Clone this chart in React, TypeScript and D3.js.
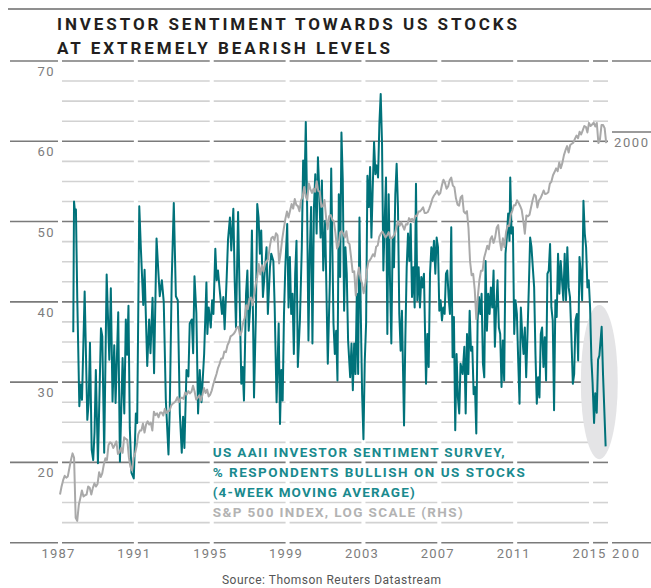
import React from "react";
import * as d3 from "d3";

const W = 651;
const H = 588;

const titleLines = ["INVESTOR SENTIMENT TOWARDS US STOCKS", "AT EXTREMELY BEARISH LEVELS"];
const legendTeal = ["US AAII INVESTOR SENTIMENT SURVEY,", "% RESPONDENTS BULLISH ON US STOCKS", "(4-WEEK MOVING AVERAGE)"];
const legendGray = "S&P 500 INDEX, LOG SCALE (RHS)";
const sourceText = "Source: Thomson Reuters Datastream";

const yearLabels = [1987, 1991, 1995, 1999, 2003, 2007, 2011, 2015];
const yearBreaks = [1987, 1991, 1995, 1999, 2003, 2007, 2011, 2015, 2016];
const leftTicks = [70, 60, 50, 40, 30, 20];
const gridLevels = [10, 12.5, 15, 17.5, 20, 22.5, 25, 27.5, 30, 32.5, 35, 37.5, 40, 42.5, 45, 47.5, 50, 52.5, 55, 57.5, 60, 62.5, 65, 67.5, 70];
const rightTicks = [2000, 200];

// S&P 500, monthly (Dec 1986 .. Jan 2016), spread evenly from spStart to spEnd
const spStart = 1987;
const spEnd = 2015.8;
const spValues = [
  262,
  274, 284, 291, 288, 290, 304, 318, 330, 322, 230, 226, 247,
  257, 268, 259, 261, 262, 274, 272, 262, 272, 279, 274, 278,
  297, 289, 295, 310, 321, 318, 346, 351, 349, 340, 346, 353,
  329, 332, 340, 331, 361, 358, 356, 323, 306, 300, 322, 330,
  344, 367, 375, 375, 390, 371, 388, 395, 388, 392, 375, 417,
  409, 413, 404, 415, 415, 408, 424, 414, 418, 419, 431, 436,
  439, 443, 452, 440, 450, 451, 448, 464, 459, 468, 462, 466,
  482, 467, 446, 451, 457, 444, 458, 476, 463, 472, 454, 459,
  470, 487, 501, 515, 533, 545, 562, 562, 584, 582, 605, 616,
  636, 640, 645, 654, 669, 671, 640, 652, 687, 705, 757, 741,
  786, 791, 757, 801, 848, 885, 954, 900, 947, 915, 955, 970,
  980, 1049, 1102, 1112, 1091, 1134, 1121, 957, 1017, 1099, 1164, 1229,
  1280, 1238, 1286, 1335, 1302, 1373, 1329, 1320, 1283, 1363, 1389, 1469,
  1394, 1366, 1499, 1452, 1421, 1455, 1431, 1518, 1437, 1429, 1315, 1320,
  1366, 1240, 1160, 1249, 1256, 1224, 1211, 1134, 1041, 1060, 1139, 1148,
  1130, 1107, 1147, 1077, 1067, 990, 912, 916, 800, 886, 936, 880,
  856, 810, 848, 917, 964, 975, 990, 1008, 996, 1051, 1058, 1112,
  1131, 1145, 1126, 1107, 1121, 1141, 1102, 1104, 1115, 1130, 1174, 1212,
  1181, 1204, 1181, 1157, 1192, 1191, 1234, 1220, 1229, 1207, 1250, 1248,
  1280, 1281, 1295, 1311, 1270, 1270, 1277, 1304, 1336, 1378, 1401, 1418,
  1438, 1407, 1421, 1482, 1531, 1503, 1455, 1474, 1527, 1549, 1481, 1468,
  1379, 1331, 1323, 1386, 1400, 1280, 1267, 1283, 1166, 969, 896, 903,
  826, 700, 798, 873, 919, 919, 988, 1021, 1057, 1036, 1096, 1115,
  1074, 1105, 1169, 1187, 1089, 1031, 1102, 1049, 1141, 1183, 1181, 1258,
  1286, 1327, 1326, 1364, 1345, 1321, 1292, 1219, 1131, 1253, 1247, 1258,
  1312, 1366, 1409, 1398, 1310, 1362, 1379, 1407, 1441, 1412, 1416, 1426,
  1498, 1515, 1569, 1598, 1631, 1606, 1686, 1633, 1682, 1757, 1806, 1848,
  1783, 1860, 1872, 1884, 1924, 1960, 1931, 2003, 1972, 2018, 2068, 2059,
  1995, 2105, 2068, 2086, 2107, 2063, 2104, 1880, 1920, 2079, 2080, 2044,
  1880,
];

// AAII % bullish, 4-week moving average: [decimal year, value]
const bullish: [number, number][] = [
  [1987.70, 36.2], [1987.74, 52.5], [1987.79, 51.2], [1987.84, 51.5], [1987.91, 40.5], [1988.02, 27], [1988.09, 29.7], [1988.16, 27.8],
  [1988.30, 41.3], [1988.44, 25.3], [1988.51, 27.4], [1988.58, 34.9], [1988.67, 21.6], [1988.75, 20.3], [1988.82, 23.7], [1988.89, 31.5],
  [1989.00, 19.9], [1989.16, 36.7], [1989.23, 35.7], [1989.33, 21.2], [1989.46, 43.4], [1989.60, 32.8], [1989.68, 41.7], [1989.77, 27.6],
  [1989.86, 34.6], [1989.93, 27.4], [1990.07, 38.7], [1990.16, 20.1], [1990.30, 33], [1990.39, 26.1], [1990.47, 37.8], [1990.54, 33.4],
  [1990.61, 39.5], [1990.68, 24.3], [1990.77, 18.7], [1990.89, 18.0], [1991.00, 26.1], [1991.07, 24.9], [1991.18, 51.9], [1991.26, 46.9],
  [1991.39, 39.6], [1991.46, 44], [1991.60, 32], [1991.70, 37.8], [1991.77, 33.6], [1991.88, 40.5], [1991.96, 31.1], [1992.09, 47.9],
  [1992.18, 44], [1992.26, 40.7], [1992.37, 42.7], [1992.47, 40], [1992.58, 27.8], [1992.72, 21], [1992.79, 27], [1992.89, 42.7],
  [1993.00, 52.3], [1993.11, 40.7], [1993.21, 40.2], [1993.32, 26.1], [1993.42, 21.2], [1993.49, 25.7], [1993.56, 21.8], [1993.67, 31.5],
  [1993.77, 30.7], [1993.84, 37.3], [1993.95, 37.8], [1994.02, 33.6], [1994.09, 43.2], [1994.19, 38.6],
  [1994.28, 26.1], [1994.37, 31.5], [1994.46, 27.5], [1994.60, 33.5], [1994.72, 42.4], [1994.77, 36], [1994.84, 39.3], [1994.95, 36.8],
  [1995.02, 40.2], [1995.09, 38.5], [1995.19, 46.6], [1995.26, 42.7], [1995.33, 43.9], [1995.44, 41], [1995.54, 38.5], [1995.61, 40.6],
  [1995.68, 36.6], [1995.79, 43.1], [1995.86, 47.8], [1995.96, 50.5], [1996.03, 46.4], [1996.14, 51.6], [1996.21, 42.7], [1996.28, 36.8],
  [1996.39, 51.2], [1996.49, 38.5], [1996.56, 29.8], [1996.63, 31.9], [1996.70, 27.7], [1996.81, 41], [1996.88, 43.9], [1996.95, 36.4],
  [1997.05, 40.2], [1997.12, 48.9], [1997.23, 28.1], [1997.33, 38.5], [1997.40, 52.2], [1997.47, 50.5], [1997.54, 46], [1997.61, 48.9],
  [1997.70, 40.6], [1997.79, 43.5], [1997.89, 46.8], [1997.96, 38.5], [1998.07, 44.3], [1998.14, 46], [1998.25, 45.1], [1998.32, 39.3],
  [1998.42, 27.5], [1998.53, 37.3], [1998.60, 24.8], [1998.67, 31.5], [1998.74, 27.7], [1998.81, 38.5], [1998.88, 44.3], [1998.98, 49.7],
  [1999.05, 39.3], [1999.12, 45.6], [1999.19, 38.5], [1999.26, 41], [1999.33, 33.5], [1999.40, 43.5], [1999.47, 47.6], [1999.54, 31.9],
  [1999.65, 37.7], [1999.75, 46.8], [1999.82, 57.6], [1999.89, 53.9], [1999.96, 62.4], [2000.03, 51.8], [2000.10, 35.2], [2000.17, 46],
  [2000.24, 51.8], [2000.31, 34.8], [2000.39, 51.8], [2000.46, 55.9], [2000.53, 48.5], [2000.60, 58], [2000.67, 53.9], [2000.74, 48],
  [2000.81, 55.1], [2000.88, 43.9], [2000.98, 50.1], [2001.12, 32.3], [2001.23, 42.7], [2001.30, 56.6],
  [2001.42, 37.3], [2001.49, 33.5], [2001.56, 36.4], [2001.63, 30.2], [2001.70, 53.4], [2001.77, 43.1], [2001.84, 61.1], [2001.91, 55.1],
  [2001.98, 38.9], [2002.05, 46.8], [2002.12, 43.5], [2002.19, 35.2], [2002.30, 30.6], [2002.37, 34.8], [2002.44, 29], [2002.51, 34.8],
  [2002.58, 31], [2002.65, 41], [2002.72, 31], [2002.79, 50.5], [2002.86, 38.5], [2002.93, 28.5], [2003.00, 22.9], [2003.07, 32.7],
  [2003.14, 37.3], [2003.21, 55.7], [2003.28, 51.8], [2003.35, 56.8], [2003.42, 48], [2003.49, 54.3], [2003.56, 59.9], [2003.63, 55.9],
  [2003.70, 57], [2003.77, 55.5], [2003.84, 62.2], [2003.91, 65.9], [2003.98, 59.7], [2004.05, 43.9], [2004.12, 50.1], [2004.19, 55.5],
  [2004.26, 36], [2004.33, 53.4], [2004.40, 42.7], [2004.47, 34.8], [2004.54, 48], [2004.61, 44.3], [2004.68, 53.4], [2004.75, 57.2],
  [2004.82, 51.8], [2004.89, 38.5], [2004.96, 33.9], [2005.03, 38.9], [2005.14, 24.6], [2005.21, 35.6], [2005.28, 44.3], [2005.35, 48.5],
  [2005.42, 45.1], [2005.49, 49.7], [2005.56, 40.6], [2005.63, 44.3], [2005.70, 39.3], [2005.77, 54.7], [2005.84, 40.2], [2005.91, 44.3],
  [2005.98, 39.3], [2006.05, 43.1], [2006.12, 41.8], [2006.19, 43.5], [2006.30, 29.8], [2006.37, 36], [2006.44, 31.9], [2006.51, 43.5],
  [2006.58, 46.8], [2006.65, 45.1], [2006.72, 47.6], [2006.79, 43.5], [2006.86, 48], [2006.93, 46.8], [2007.00, 38.9], [2007.07, 40.2],
  [2007.14, 37.7], [2007.21, 39.3], [2007.28, 38.5], [2007.35, 43.5], [2007.42, 43.9], [2007.49, 40.6], [2007.56, 38.5], [2007.63, 49.3],
  [2007.70, 33.1], [2007.77, 38.1], [2007.84, 24.0], [2007.91, 33.5], [2007.98, 28.1], [2008.05, 26.1], [2008.12, 32.3], [2008.23, 31],
  [2008.32, 34.4], [2008.39, 26.1], [2008.46, 36], [2008.53, 31], [2008.60, 38.9], [2008.67, 33.9], [2008.74, 34.4], [2008.81, 28.5],
  [2008.88, 29.4], [2008.95, 23.6], [2009.02, 37.7], [2009.09, 40.6], [2009.16, 38.5], [2009.23, 41], [2009.30, 32.3], [2009.37, 30.6],
  [2009.44, 45.1], [2009.51, 36.4], [2009.58, 41], [2009.65, 38.5], [2009.72, 41.8], [2009.79, 39.3], [2009.86, 43.9], [2009.93, 34.4],
  [2010.00, 39.3], [2010.07, 42.7], [2010.14, 36.8], [2010.21, 36], [2010.28, 29.4], [2010.35, 35.2], [2010.42, 30.2], [2010.49, 46],
  [2010.56, 48], [2010.63, 51], [2010.70, 47.6], [2010.74, 55.5], [2010.81, 48.5], [2010.88, 49.3], [2010.95, 36], [2011.02, 40.2],
  [2011.09, 38.5], [2011.16, 32.7], [2011.23, 27.3], [2011.30, 39.3], [2011.37, 36], [2011.44, 33.5], [2011.51, 36.8], [2011.58, 30.6],
  [2011.65, 36], [2011.72, 41.8], [2011.79, 48], [2011.86, 46.8], [2011.93, 44.3], [2012.00, 41.8], [2012.07, 33.5], [2012.14, 27.3],
  [2012.21, 30.6], [2012.28, 28.1], [2012.35, 36], [2012.42, 36.8], [2012.49, 31.9], [2012.56, 35.6], [2012.63, 30.2], [2012.70, 43.5],
  [2012.77, 43.9], [2012.84, 47.2], [2012.91, 39.3], [2012.98, 37.7], [2013.05, 26.5], [2013.12, 40.2], [2013.19, 38.1], [2013.26, 46],
  [2013.33, 41], [2013.40, 45.1], [2013.47, 42.7], [2013.54, 40.2], [2013.61, 46], [2013.68, 40.2], [2013.75, 46.8], [2013.82, 41.8],
  [2013.89, 40.6], [2013.96, 36], [2014.04, 29.8], [2014.11, 31], [2014.18, 37.7], [2014.25, 38.5], [2014.32, 32.7], [2014.39, 45.6],
  [2014.46, 43.5], [2014.53, 40.2], [2014.60, 52.6], [2014.67, 48.5], [2014.74, 46.8], [2014.81, 41.8], [2014.88, 42.7], [2014.95, 39.3],
  [2015.02, 32.8], [2015.08, 30], [2015.16, 24.9], [2015.22, 28.6], [2015.30, 26.2], [2015.37, 32.8], [2015.44, 33.3], [2015.56, 36.9],
  [2015.63, 31.1], [2015.77, 22.0],
];

const TEAL_LINE = "#00727a";
const TEAL_TEXT = "#1a8a8e";
const GRAY_LINE = "#a9a9a9";
const FONT = "Roboto, 'Noto Sans', sans-serif";

export default function App() {
  const x = d3.scaleLinear().domain([1987, 2016]).range([60, 610]);
  const yL = d3.scaleLinear().domain([10, 70]).range([542.7, 61]);
  const yR = d3.scaleLog().domain([200, 2000]).range([542.7, 132]);

  const gap = 2;
  const plotSegs: [number, number][] = [];
  for (let i = 0; i < yearBreaks.length - 1; i++) {
    plotSegs.push([x(yearBreaks[i]) + gap, x(yearBreaks[i + 1]) - gap]);
  }
  const leftSeg: [number, number] = [10, x(1987) - gap];
  const rightSeg: [number, number] = [x(2016) + gap, W];

  const spData: [number, number][] = spValues.map((v, i) => [
    spStart + (i * (spEnd - spStart)) / (spValues.length - 1),
    v,
  ]);

  const bullLine = d3
    .line<[number, number]>()
    .x((d) => x(d[0]))
    .y((d) => yL(d[1]));
  const spLine = d3
    .line<[number, number]>()
    .x((d) => x(d[0]))
    .y((d) => yR(d[1]));

  // highlighted recent period (ellipse spans these years / values)
  const hlStart = 2014.46;
  const hlEnd = 2016.41;
  const hlTop = 39.6;
  const hlBottom = 20.4;
  const ecx = (x(hlStart) + x(hlEnd)) / 2;
  const erx = (x(hlEnd) - x(hlStart)) / 2;
  const ecy = (yL(hlTop) + yL(hlBottom)) / 2;
  const ery = (yL(hlBottom) - yL(hlTop)) / 2;

  const lines: React.ReactNode[] = [];
  gridLevels.forEach((v) => {
    const major = v % 10 === 0;
    const y = yL(v);
    const stroke = major ? "#7a7a7a" : "#d2d2d2";
    const segs = [...plotSegs];
    if (major) segs.unshift(leftSeg);
    if (v === 70 || v === 10) segs.push(rightSeg);
    segs.forEach(([a, b], j) => {
      lines.push(
        <line key={`g${v}-${j}`} x1={a} x2={b} y1={y} y2={y} stroke={stroke} strokeWidth={1.6} />
      );
    });
  });
  lines.push(
    <line key="r2000" x1={rightSeg[0]} x2={rightSeg[1]} y1={yR(2000)} y2={yR(2000)} stroke="#7a7a7a" strokeWidth={1.6} />
  );

  return (
    <svg
      width={W}
      height={H}
      style={{ position: "absolute", left: 0, top: 0, background: "#fff" }}
      fontFamily={FONT}
    >
      <rect x={0} y={0} width={W} height={H} fill="#fff" />
      <line x1={8} x2={W} y1={9} y2={9} stroke="#6a6a6a" strokeWidth={1.5} />
      {titleLines.map((t, i) => (
        <text
          key={t}
          x={57}
          y={30 + i * 23.5}
          fontSize={17}
          fontWeight={700}
          fill="#231f20"
          textLength={i === 0 ? 460 : 333}
          lengthAdjust="spacing"
        >
          {t}
        </text>
      ))}
      {lines}
      <ellipse cx={ecx} cy={ecy} rx={erx} ry={ery} fill="#e4e4e6" />
      <path d={bullLine(bullish) || ""} fill="none" stroke={TEAL_LINE} strokeWidth={2} strokeLinejoin="round" />
      <path d={spLine(spData) || ""} fill="none" stroke={GRAY_LINE} strokeWidth={2} strokeLinejoin="round" />

      {leftTicks.map((v) => (
        <text key={`l${v}`} x={55} y={yL(v) + 15} textAnchor="end" fontSize={13} fill="#7d7d7d" letterSpacing={1.5}>
          {v}
        </text>
      ))}
      {yearLabels.map((yr) => (
        <text key={`y${yr}`} x={x(yr) - 1.5} y={558} textAnchor="middle" fontSize={13} fill="#7d7d7d" letterSpacing={1.2}>
          {yr}
        </text>
      ))}
      {rightTicks.map((v) => (
        <text
          key={`r${v}`}
          x={v === 2000 ? 614 : 612}
          y={yR(v) + 15}
          fontSize={13}
          fill="#7d7d7d"
          textLength={v === 2000 ? 34 : 27}
          lengthAdjust="spacing"
        >
          {v}
        </text>
      ))}

      {legendTeal.map((t, i) => (
        <text
          key={t}
          x={212.7}
          y={456.5 + i * 20}
          fontSize={13.5}
          fontWeight={700}
          fill={TEAL_TEXT}
          textLength={[292, 312, 202][i]}
          lengthAdjust="spacing"
        >
          {t}
        </text>
      ))}
      <text x={212.7} y={516.5} fontSize={13.5} fontWeight={700} fill="#b3b3b3" textLength={250} lengthAdjust="spacing">
        {legendGray}
      </text>

      <text x={331.5} y={584} textAnchor="middle" fontSize={12} fill="#555" textLength={219} lengthAdjust="spacing">
        {sourceText}
      </text>
    </svg>
  );
}
